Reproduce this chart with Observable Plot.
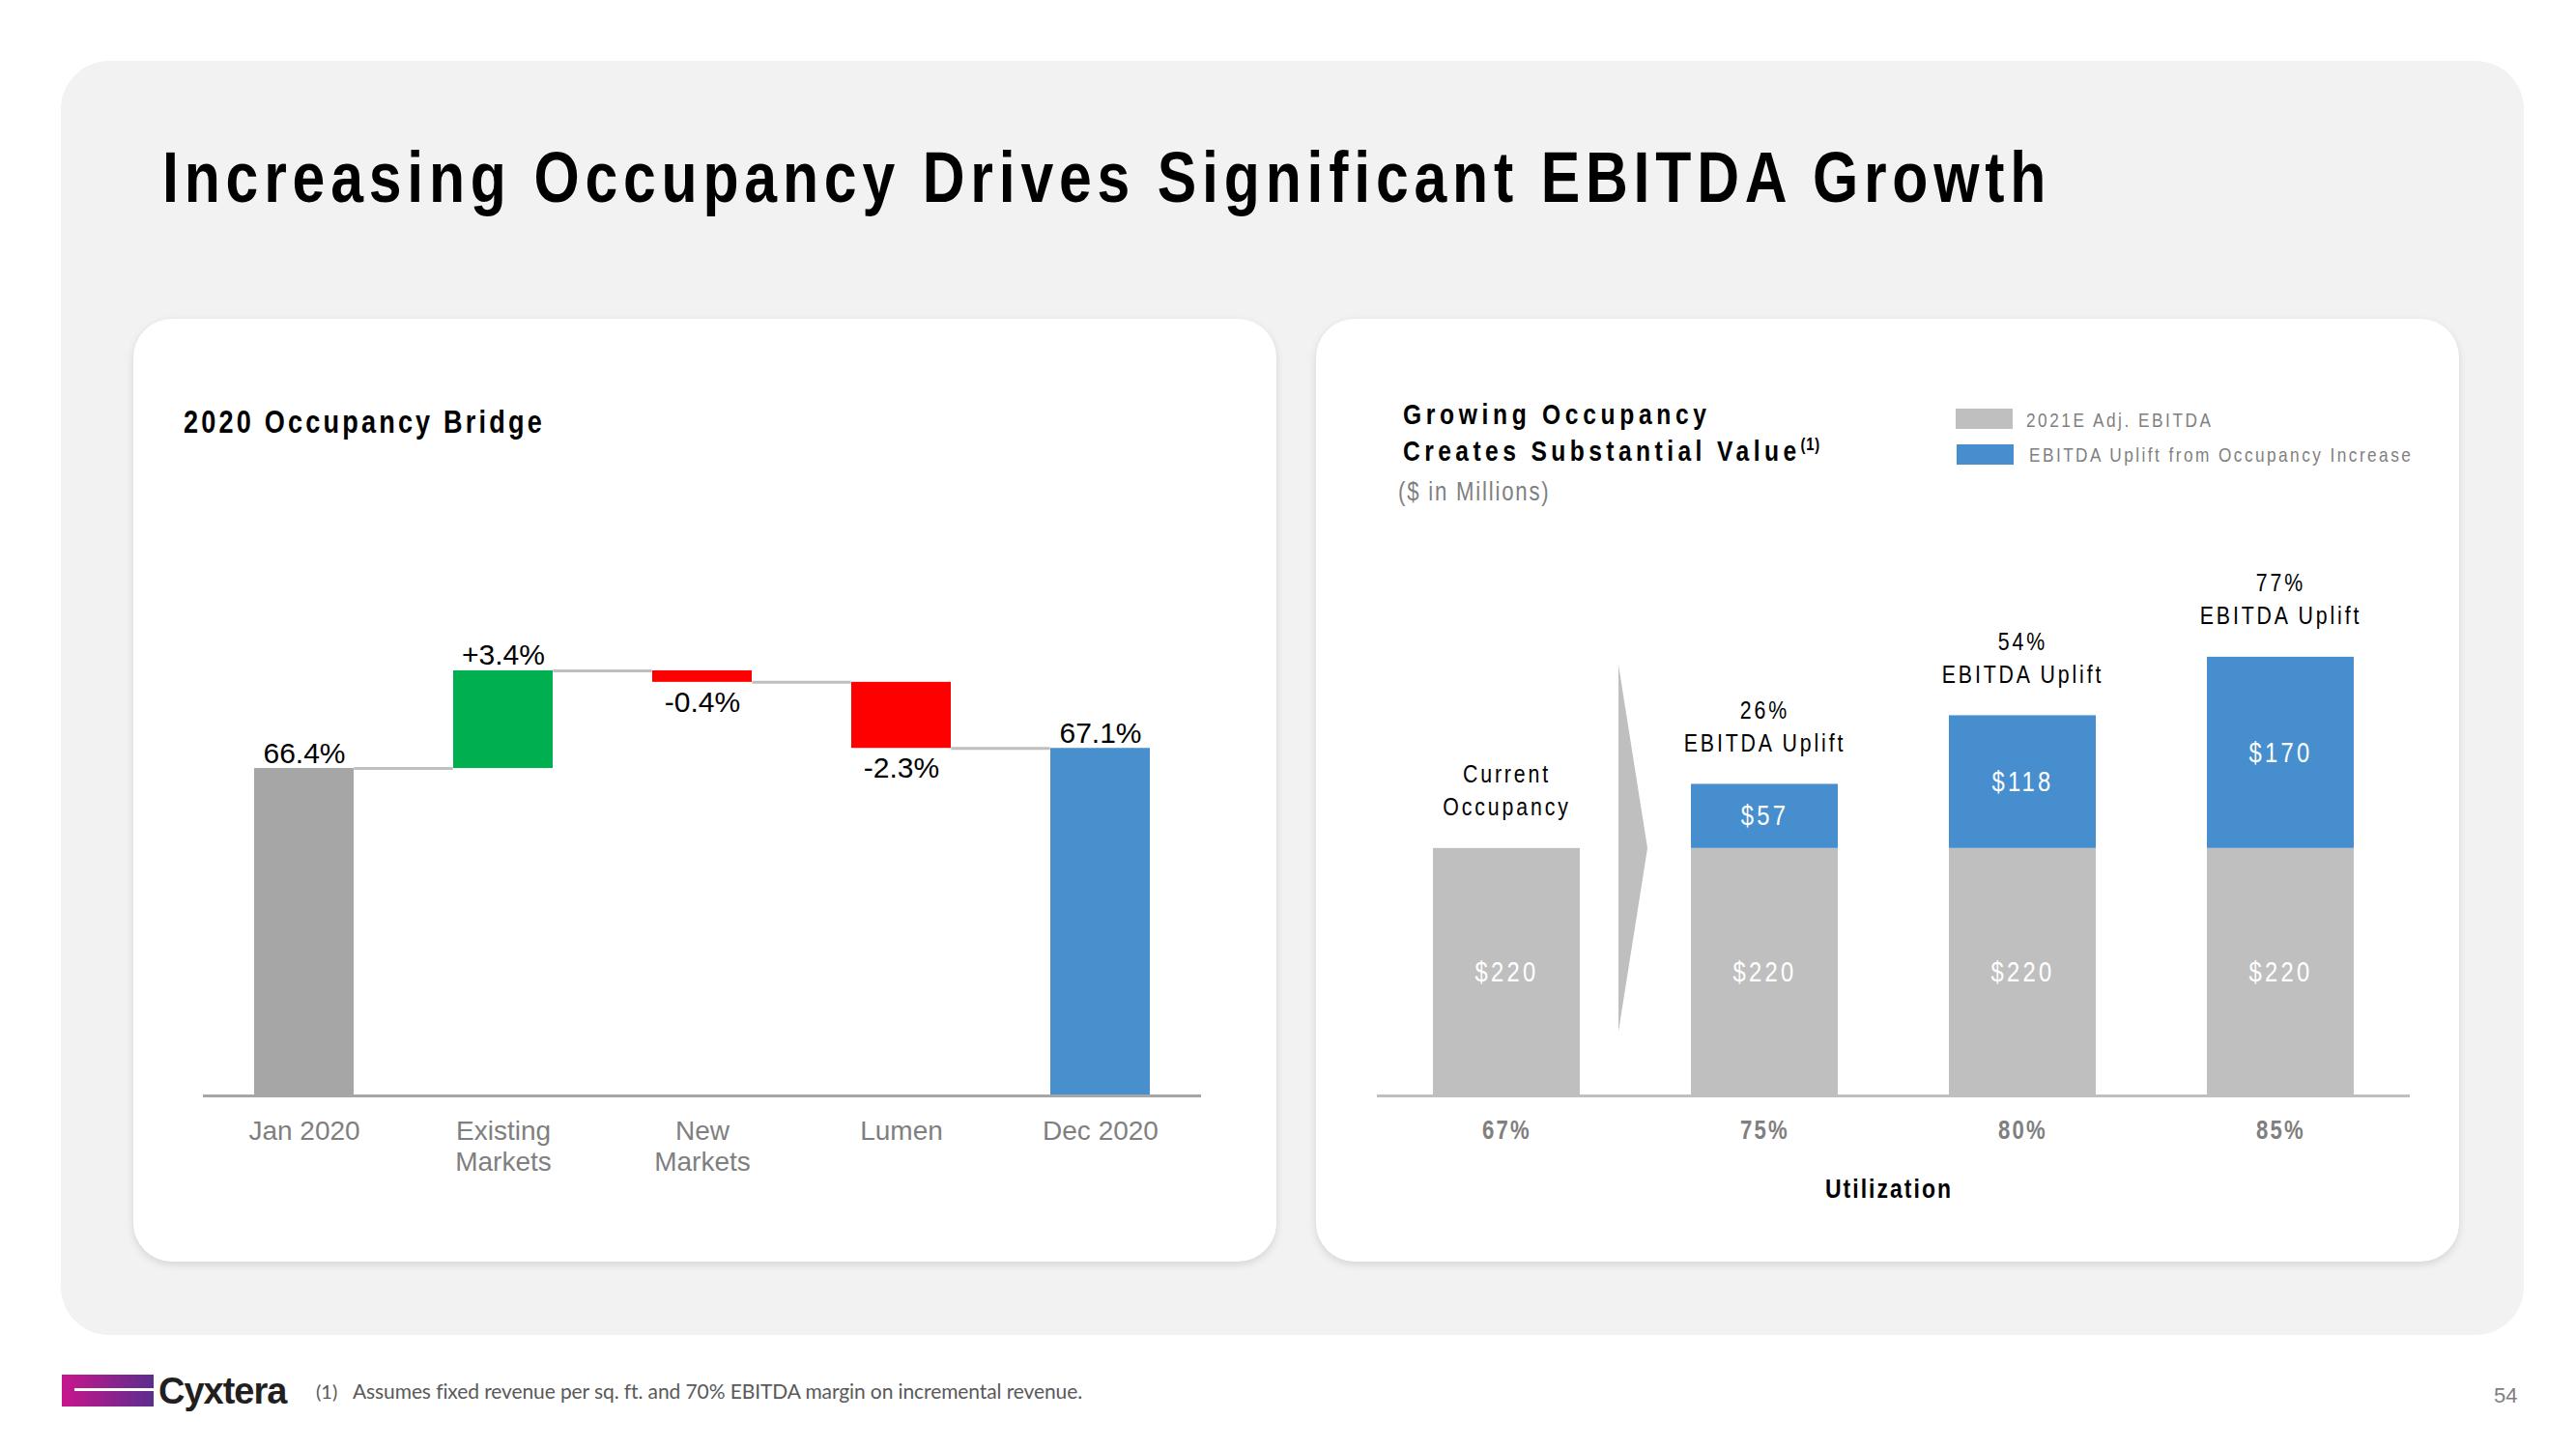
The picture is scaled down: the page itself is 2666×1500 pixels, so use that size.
<!DOCTYPE html>
<html><head><meta charset="utf-8">
<script src="https://cdn.jsdelivr.net/npm/d3@7"></script>
<script src="https://cdn.jsdelivr.net/npm/@observablehq/plot@0.6"></script>
<style>
html,body{margin:0;padding:0;background:#fff;}
body{width:2666px;height:1500px;position:relative;overflow:hidden;font-family:"Liberation Sans",Arial,sans-serif;}
.abs{position:absolute;white-space:pre;line-height:1;}
#panel{position:absolute;left:63px;top:63px;width:2549px;height:1319px;background:#f2f2f2;border-radius:50px;}
.card{position:absolute;top:330px;width:1183px;height:976px;background:#fff;border-radius:40px;box-shadow:0 3px 8px rgba(0,0,0,0.12);}
.chart{position:absolute;}
.sw{position:absolute;width:59px;height:21px;}
</style></head><body>
<div id="panel"></div>
<div class="card" style="left:138px"></div>
<div class="card" style="left:1362px"></div>
<div id="arrow" style="position:absolute;left:1675px;top:688px;width:30px;height:380px;background:#bfbfbf;clip-path:polygon(0 0,100% 50%,0 100%);"></div>
<div class="sw" style="left:2024px;top:423px;background:#bfbfbf"></div>
<div class="sw" style="left:2025px;top:460px;background:#468ece"></div>
<div style="position:absolute;left:64px;top:1423px;width:95px;height:33px;background:linear-gradient(to right,#c8168c,#5b2d8e);"></div>
<div style="position:absolute;left:77px;top:1437px;width:82px;height:3px;background:#fff;"></div>
<div id="left" class="chart" style="left:138px;top:600px"></div>
<div id="right" class="chart" style="left:1362px;top:560px"></div>
<script>
// ---------- data ----------
const bridgeCategories = ["Jan 2020", "Existing\nMarkets", "New\nMarkets", "Lumen", "Dec 2020"];
const bridgeValues = [66.4, 3.4, -0.4, -2.3, 67.1];
const bridgeKinds = ["total", "delta", "delta", "delta", "total"];
const bridgeLabels = ["66.4%", "+3.4%", "-0.4%", "-2.3%", "67.1%"];
const bridgeColors = ["#a6a6a6", "#00b050", "#ff0000", "#ff0000", "#4790cd"];

const utilization = ["67%", "75%", "80%", "85%"];
const adjEbitda = [220, 220, 220, 220];
const upliftValues = [0, 57, 118, 170];
const topLabels = ["Current\nOccupancy", "26%\nEBITDA Uplift", "54%\nEBITDA Uplift", "77%\nEBITDA Uplift"];
const seriesNames = ["2021E Adj. EBITDA", "EBITDA Uplift from Occupancy Increase"];
const seriesColors = ["#bfbfbf", "#468ece"];

const NARROW = 0.82; // emulate a condensed face (no Arial Narrow installed)

// ---------- text helper ----------
function txt(s, x, base, size, o = {}) {
  const d = document.createElement("div");
  d.className = "abs";
  d.textContent = s;
  d.style.fontSize = size + "px";
  d.style.top = (base - 0.8465 * size) + "px";
  d.style.left = x + "px";
  d.style.transformOrigin = "0 0";
  const tr = [];
  if (o.narrow) tr.push(`scaleX(${NARROW})`);
  if (o.anchor === "middle") tr.push("translateX(-50%)");
  if (tr.length) d.style.transform = tr.join(" ");
  if (o.weight) d.style.fontWeight = o.weight;
  d.style.color = o.color || "#000";
  if (o.ls != null) d.style.letterSpacing = o.ls + "px";
  if (o.family) d.style.fontFamily = o.family;
  document.body.appendChild(d);
  return d;
}

txt("Increasing Occupancy Drives Significant EBITDA Growth", 168, 210, 74, {narrow: true, weight: "bold", ls: 7.1});
txt("2020 Occupancy Bridge", 190, 448, 33, {narrow: true, weight: "bold", ls: 3.9});
txt("Growing Occupancy", 1452, 439, 30, {narrow: true, weight: "bold", ls: 5.7});
const t2 = txt("Creates Substantial Value", 1452, 477, 30, {narrow: true, weight: "bold", ls: 5.4});
const sup = document.createElement("span");
sup.textContent = "(1)";
sup.style.cssText = "font-size:18px;position:relative;top:-11px;letter-spacing:1px;";
t2.appendChild(sup);
txt("($ in Millions)", 1447, 519, 27, {narrow: true, color: "#7f7f7f", ls: 2.2});
txt(seriesNames[0], 2097, 442, 21, {narrow: true, color: "#7f7f7f", ls: 3.1});
txt(seriesNames[1], 2100, 478, 21, {narrow: true, color: "#7f7f7f", ls: 3});
txt("Utilization", 1955, 1241, 28, {narrow: true, weight: "bold", ls: 2.5, anchor: "middle"});
txt("Cyxtera", 164, 1453, 38, {weight: "bold", ls: -1, color: "#231f20"});
txt("(1)", 327, 1447, 20, {family: "Lato, 'Open Sans', sans-serif", color: "#595959"});
txt("Assumes fixed revenue per sq. ft. and 70% EBITDA margin on incremental revenue.", 365, 1447, 21, {family: "Lato, 'Open Sans', sans-serif", color: "#595959", ls: -0.1});
txt("54", 2581, 1453, 22, {color: "#7f7f7f"});

// ---------- left: waterfall ----------
let run = 0;
const bridge = bridgeCategories.map((c, i) => {
  const v = bridgeValues[i];
  let lo, hi;
  if (bridgeKinds[i] === "total") { lo = 0; hi = v; run = v; }
  else { const s = run; run = s + v; lo = Math.min(s, run); hi = Math.max(s, run); }
  return {cat: c, lo, hi, end: run, label: bridgeLabels[i], color: bridgeColors[i], up: v >= 0};
});
const connectors = bridge.slice(0, -1).map((d, i) => ({from: d.cat, to: bridge[i + 1].cat, level: d.end}));

const LW = 1183, LH = 650, LML = 72, LMR = 78;
const lPi = 0.5, lPo = 0.25;
const lStep = (LW - LML - LMR) / (bridgeCategories.length - lPi + 2 * lPo);
const lBw = lStep * (1 - lPi);

const leftPlot = Plot.plot({
  width: LW, height: LH,
  marginLeft: LML, marginRight: LMR, marginTop: 88, marginBottom: 116,
  x: {domain: bridgeCategories, paddingInner: lPi, paddingOuter: lPo, axis: null},
  y: {domain: [55, 70], axis: null},
  color: {type: "identity"},
  style: {fontFamily: '"Liberation Sans", Arial, sans-serif', background: "transparent", overflow: "visible"},
  marks: [
    Plot.ruleY(connectors, {x1: "from", x2: "to", y: "level", stroke: "#bfbfbf", strokeWidth: 3, insetLeft: lBw, insetRight: lBw}),
    Plot.barY(bridge, {x: "cat", y1: "lo", y2: "hi", fill: "color", clip: true}),
    Plot.ruleY([55], {stroke: "#a6a6a6", strokeWidth: 3}),
    Plot.text(bridge.filter(d => d.up), {x: "cat", y: "hi", text: "label", lineAnchor: "bottom", dy: -6, fontSize: 30, fill: "#000"}),
    Plot.text(bridge.filter(d => !d.up), {x: "cat", y: "lo", text: "label", lineAnchor: "top", dy: 9, fontSize: 30, fill: "#000"}),
    Plot.text(bridge, {x: "cat", frameAnchor: "bottom", text: "cat", lineAnchor: "top", dy: 23, fontSize: 28, lineHeight: 1.13, fill: "#7f7f7f"})
  ]
});
document.getElementById("left").appendChild(leftPlot);

// ---------- right: stacked bars ----------
const segments = [];
utilization.forEach((u, i) => {
  segments.push({u, y1: 0, y2: adjEbitda[i], fill: seriesColors[0], label: "$" + adjEbitda[i]});
  if (upliftValues[i] > 0) segments.push({u, y1: adjEbitda[i], y2: adjEbitda[i] + upliftValues[i], fill: seriesColors[1], label: "$" + upliftValues[i]});
});
const tops = utilization.map((u, i) => ({u, total: adjEbitda[i] + upliftValues[i], label: topLabels[i]}));

const rightPlot = Plot.plot({
  width: 1183, height: 720,
  marginLeft: 63, marginRight: 51, marginTop: 50, marginBottom: 146,
  x: {domain: utilization, paddingInner: 0.43, paddingOuter: 0.211, axis: null},
  y: {domain: [0, 450], axis: null},
  color: {type: "identity"},
  style: {fontFamily: '"Liberation Sans", Arial, sans-serif', background: "transparent", overflow: "visible"},
  marks: [
    Plot.barY(segments, {x: "u", y1: "y1", y2: "y2", fill: "fill"}),
    Plot.ruleY([0], {stroke: "#bfbfbf", strokeWidth: 3}),
    Plot.text(segments, {x: "u", y: d => (d.y1 + d.y2) / 2, text: "label", fill: "#fff", fontSize: 29, ariaDescription: "inner-labels"}),
    Plot.text(tops, {x: "u", y: "total", text: "label", lineAnchor: "bottom", dy: -34, fontSize: 26, lineHeight: 1.31, fill: "#000", ariaDescription: "top-labels"}),
    Plot.text(utilization, {x: d => d, frameAnchor: "bottom", text: d => d, lineAnchor: "top", dy: 25, fontSize: 27, fontWeight: "bold", fill: "#7f7f7f", ariaDescription: "tick-labels"})
  ]
});
document.getElementById("right").appendChild(rightPlot);

// condensed look for the right chart's text: scale each label around its own anchor
const spacing = {"inner-labels": 4, "top-labels": 3.5, "tick-labels": 2.7};
d3.select(rightPlot).selectAll("text").each(function () {
  const t = this.getAttribute("transform") || "";
  this.setAttribute("transform", t + ` scale(${NARROW},1)`);
  let p = this.parentNode, key = null;
  while (p && p !== rightPlot && !key) {
    const a = p.getAttribute && p.getAttribute("aria-description");
    if (a && spacing[a] != null) key = a;
    p = p.parentNode;
  }
  this.setAttribute("letter-spacing", (key ? spacing[key] : 3) + "px");
  this.style.letterSpacing = (key ? spacing[key] : 3) + "px";
});
</script>
</body></html>
